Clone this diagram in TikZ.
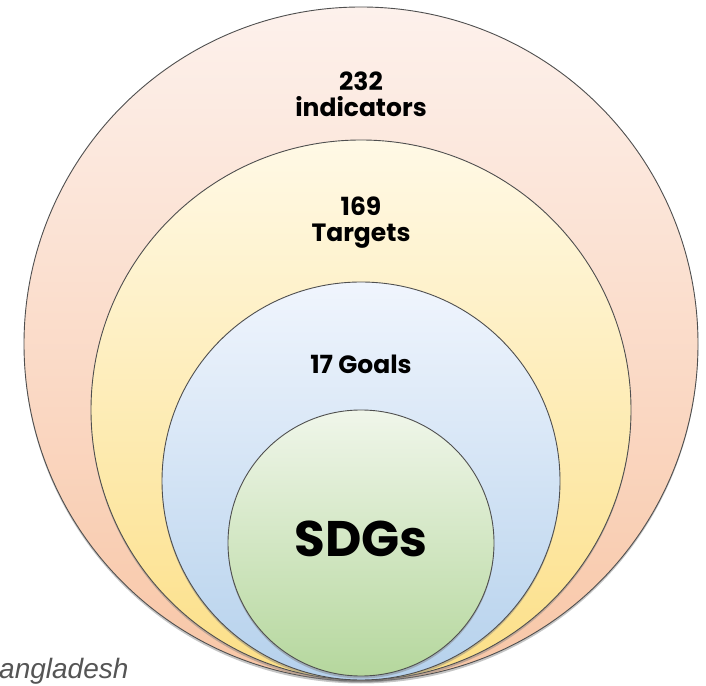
\documentclass[tikz,border=0pt]{standalone}
\usepackage{fontspec}
\setmainfont{Poppins}
\newfontfamily\notefont{Liberation Sans}
\usetikzlibrary{shadows}
\definecolor{ringline}{HTML}{4F4F4F}
\definecolor{peachtop}{HTML}{FDF1EC}
\definecolor{peachbot}{HTML}{F8C6A6}
\definecolor{yellowtop}{HTML}{FFF9E6}
\definecolor{yellowbot}{HTML}{FCDF86}
\definecolor{bluetop}{HTML}{F0F5FD}
\definecolor{bluebot}{HTML}{B5D1EC}
\definecolor{greentop}{HTML}{F0F6EA}
\definecolor{greenbot}{HTML}{B5D79D}
\definecolor{notegray}{HTML}{555555}
\begin{document}
\begin{tikzpicture}[x=1pt,y=1pt,
  ring/.style={circle, draw=ringline, line width=0.9pt, inner sep=0pt,
    drop shadow={shadow xshift=0pt, shadow yshift=-2.5pt, opacity=0.45}},
  lab/.style={align=center, font=\bfseries\fontsize{25}{26}\selectfont, text=black}]
\useasboundingbox (0,0) rectangle (706,685);
\fill[white] (0,0) rectangle (706,685);
\node[ring, minimum size=674pt, top color=peachtop, bottom color=peachbot] (outer) at (361,341) {};
\node[ring, minimum size=540pt, top color=yellowtop, bottom color=yellowbot] (yellow) at (361,275) {};
\node[ring, minimum size=398pt, top color=bluetop, bottom color=bluebot] (blue) at (361,204) {};
\node[ring, minimum size=266pt, top color=greentop, bottom color=greenbot] (green) at (361,142) {};
\node[lab] (ind) at (361,591) {232\\indicators};
\node[lab] (tar) at (361,462) {169\\Targets};
\node[lab] (goals) at (361,321) {17 Goals};
\node[font=\bfseries\fontsize{50}{52}\selectfont] (sdgs) at (361,146) {SDGs};
\node[anchor=base west, inner sep=0pt, text=notegray, font=\notefont\itshape\fontsize{28}{30}\selectfont] (note) at (-1,7) {angladesh};
\end{tikzpicture}
\end{document}
